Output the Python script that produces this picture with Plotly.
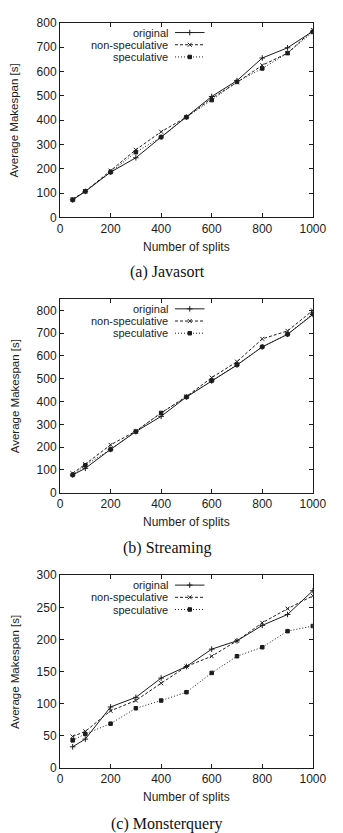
import plotly.graph_objects as go

# ---------------- data ----------------
splits = [50, 100, 200, 300, 400, 500, 600, 700, 800, 900, 1000]
series_names = ["original", "non-speculative", "speculative"]

javasort_original = [72, 107, 186, 245, 330, 412, 497, 562, 655, 697, 765]
javasort_nonspec = [75, 107, 192, 278, 352, 412, 490, 555, 625, 675, 770]
javasort_spec = [72, 107, 186, 268, 330, 412, 482, 557, 612, 675, 762]

streaming_original = [78, 107, 190, 268, 335, 420, 490, 560, 640, 695, 782]
streaming_nonspec = [85, 125, 210, 270, 350, 422, 505, 575, 675, 710, 800]
streaming_spec = [78, 120, 190, 268, 350, 420, 492, 562, 640, 695, 785]

monster_original = [33, 45, 95, 110, 140, 158, 185, 198, 222, 239, 276]
monster_nonspec = [49, 57, 89, 105, 132, 158, 174, 198, 226, 248, 268]
monster_spec = [43, 53, 69, 93, 105, 118, 148, 174, 188, 213, 221]

captions = ["(a) Javasort", "(b) Streaming", "(c) Monsterquery"]
x_ticks = [0, 200, 400, 600, 800, 1000]
y_ticks = [
    [0, 100, 200, 300, 400, 500, 600, 700, 800],
    [0, 100, 200, 300, 400, 500, 600, 700, 800],
    [0, 50, 100, 150, 200, 250, 300],
]
y_ranges = [[0, 800], [0, 850], [0, 300]]
x_range = [0, 1000]

panels = [
    [javasort_original, javasort_nonspec, javasort_spec],
    [streaming_original, streaming_nonspec, streaming_spec],
    [monster_original, monster_nonspec, monster_spec],
]

# ---------------- layout geometry (pixels) ----------------
W, H = 343, 833
frame_x = (60, 326)
frames_y = [(16, 214), (297, 494), (578, 774)]
xtitle_y = [244, 524, 803]
caption_y = [270, 550, 831]


def PX(x):
    return x / W


def PY(y):
    return 1 - y / H


INK = "#1c1c1c"
styles = [
    dict(dash="solid", symbol="cross-thin", size=4),
    dict(dash="3px,2px", symbol="x-thin", size=4),
    dict(dash="1px,2px", symbol="square", size=3.5),
]

fig = go.Figure()
font_sans = "Liberation Sans, Arial, sans-serif"
font_serif = "Liberation Serif, DejaVu Serif, serif"
annotations = []
layout_axes = {}

for i, data in enumerate(panels):
    n = i + 1
    xa = "x" if n == 1 else f"x{n}"
    ya = "y" if n == 1 else f"y{n}"
    for name, vals, st in zip(series_names, data, styles):
        fig.add_trace(go.Scatter(
            x=splits, y=vals, name=name, xaxis=xa, yaxis=ya, mode="lines+markers",
            line=dict(color=INK, width=1, dash=st["dash"]),
            marker=dict(symbol=st["symbol"], size=st["size"], color=INK,
                        line=dict(color=INK, width=1)),
            showlegend=False,
        ))
    y0, y1 = frames_y[i]
    ax_common = dict(showline=True, mirror="ticks", linecolor=INK, linewidth=1,
                     ticks="inside", ticklen=4, tickwidth=1, tickcolor=INK,
                     showgrid=False, zeroline=False,
                     tickfont=dict(family=font_sans, size=12, color=INK))
    layout_axes["xaxis" if n == 1 else f"xaxis{n}"] = dict(
        ax_common, domain=[PX(frame_x[0]), PX(frame_x[1])], range=x_range,
        tickvals=x_ticks, anchor=ya)
    layout_axes["yaxis" if n == 1 else f"yaxis{n}"] = dict(
        ax_common, domain=[PY(y1), PY(y0)], range=y_ranges[i],
        tickvals=y_ticks[i], anchor=xa)

    # axis titles & caption
    annotations.append(dict(text="Number of splits", x=PX((frame_x[0] + frame_x[1]) / 2),
                            y=PY(xtitle_y[i]), xref="paper", yref="paper",
                            showarrow=False, xanchor="center", yanchor="middle",
                            font=dict(family=font_sans, size=12, color=INK)))
    annotations.append(dict(text="Average Makespan [s]", x=PX(12), y=PY((y0 + y1) / 2),
                            xref="paper", yref="paper", textangle=-90,
                            showarrow=False, xanchor="center", yanchor="middle",
                            font=dict(family=font_sans, size=11.5, color=INK)))
    annotations.append(dict(text=captions[i], x=PX(173), y=PY(caption_y[i]),
                            xref="paper", yref="paper",
                            showarrow=False, xanchor="center", yanchor="middle",
                            font=dict(family=font_serif, size=16, color="#111")))

    # gnuplot-style key: text on the left, sample on the right
    for k, (name, st) in enumerate(zip(series_names, styles)):
        ry = y0 + 10 + k * 12.4
        annotations.append(dict(text=name, x=PX(175), y=PY(ry), xref="paper", yref="paper",
                                showarrow=False, xanchor="right", yanchor="middle",
                                borderpad=0,
                                font=dict(family=font_sans, size=11, color=INK)))
        fig.add_trace(go.Scatter(
            x=[181, 212], y=[ry, ry], xaxis="x4", yaxis="y4", mode="lines",
            line=dict(color=INK, width=1, dash=st["dash"]), showlegend=False,
            hoverinfo="skip"))
        fig.add_trace(go.Scatter(
            x=[196.5], y=[ry], xaxis="x4", yaxis="y4", mode="markers",
            marker=dict(symbol=st["symbol"], size=st["size"], color=INK,
                        line=dict(color=INK, width=1)),
            showlegend=False, hoverinfo="skip"))

layout_axes["xaxis4"] = dict(domain=[0, 1], range=[0, W], visible=False, anchor="y4",
                             fixedrange=True)
layout_axes["yaxis4"] = dict(domain=[0, 1], range=[H, 0], visible=False, anchor="x4",
                             fixedrange=True)

fig.update_layout(
    width=W, height=H, margin=dict(l=0, r=0, t=0, b=0),
    paper_bgcolor="white", plot_bgcolor="rgba(0,0,0,0)",
    annotations=annotations, showlegend=False, **layout_axes,
)

fig.write_html("out.html", config=dict(displayModeBar=False))
